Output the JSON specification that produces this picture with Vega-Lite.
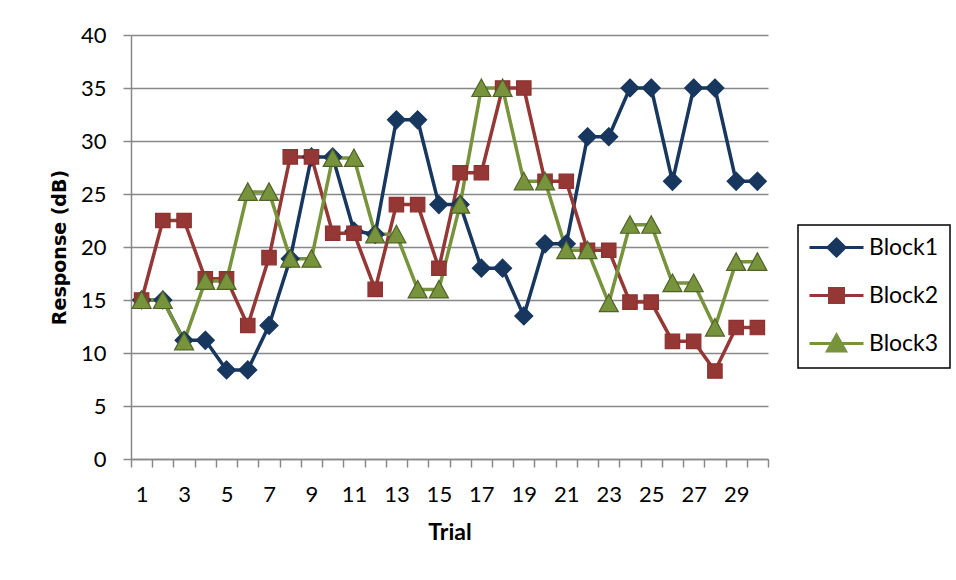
{
  "$schema": "https://vega.github.io/schema/vega-lite/v6.json",
  "autosize": "none",
  "width": 637,
  "height": 424,
  "padding": {"left": 131, "top": 35, "right": 188, "bottom": 121},
  "background": "#ffffff",
  "config": {
    "view": {"stroke": null},
    "font": "Lato"
  },
  "data": {
    "values": [
      {"Trial": 1, "Block1": 15, "Block2": 15, "Block3": 15},
      {"Trial": 2, "Block1": 15, "Block2": 22.5, "Block3": 15},
      {"Trial": 3, "Block1": 11.2, "Block2": 22.5, "Block3": 11.1},
      {"Trial": 4, "Block1": 11.2, "Block2": 17, "Block3": 16.8},
      {"Trial": 5, "Block1": 8.4, "Block2": 17, "Block3": 16.8},
      {"Trial": 6, "Block1": 8.4, "Block2": 12.6, "Block3": 25.2},
      {"Trial": 7, "Block1": 12.6, "Block2": 19, "Block3": 25.2},
      {"Trial": 8, "Block1": 18.9, "Block2": 28.5, "Block3": 18.9},
      {"Trial": 9, "Block1": 28.5, "Block2": 28.5, "Block3": 18.9},
      {"Trial": 10, "Block1": 28.5, "Block2": 21.3, "Block3": 28.4},
      {"Trial": 11, "Block1": 21.5, "Block2": 21.3, "Block3": 28.4},
      {"Trial": 12, "Block1": 21.2, "Block2": 16, "Block3": 21.2},
      {"Trial": 13, "Block1": 32, "Block2": 24, "Block3": 21.2},
      {"Trial": 14, "Block1": 32, "Block2": 24, "Block3": 16},
      {"Trial": 15, "Block1": 24, "Block2": 18, "Block3": 16},
      {"Trial": 16, "Block1": 24, "Block2": 27, "Block3": 24},
      {"Trial": 17, "Block1": 18, "Block2": 27, "Block3": 35},
      {"Trial": 18, "Block1": 18, "Block2": 35, "Block3": 35},
      {"Trial": 19, "Block1": 13.5, "Block2": 35, "Block3": 26.2},
      {"Trial": 20, "Block1": 20.3, "Block2": 26.2, "Block3": 26.2},
      {"Trial": 21, "Block1": 20.3, "Block2": 26.2, "Block3": 19.7},
      {"Trial": 22, "Block1": 30.4, "Block2": 19.7, "Block3": 19.7},
      {"Trial": 23, "Block1": 30.4, "Block2": 19.7, "Block3": 14.7},
      {"Trial": 24, "Block1": 35, "Block2": 14.8, "Block3": 22.1},
      {"Trial": 25, "Block1": 35, "Block2": 14.8, "Block3": 22.1},
      {"Trial": 26, "Block1": 26.2, "Block2": 11.1, "Block3": 16.6},
      {"Trial": 27, "Block1": 35, "Block2": 11.1, "Block3": 16.6},
      {"Trial": 28, "Block1": 35, "Block2": 8.3, "Block3": 12.4},
      {"Trial": 29, "Block1": 26.2, "Block2": 12.4, "Block3": 18.6},
      {"Trial": 30, "Block1": 26.2, "Block2": 12.4, "Block3": 18.6}
    ]
  },
  "transform": [
    {"fold": ["Block1", "Block2", "Block3"], "as": ["series", "value"]}
  ],
  "encoding": {
    "x": {
      "field": "Trial",
      "type": "ordinal",
      "scale": {"type": "band", "paddingInner": 0, "paddingOuter": 0},
      "axis": {
        "title": "Trial",
        "labelAngle": 0,
        "labelExpr": "datum.value % 2 === 1 ? datum.label : ''",
        "tickBand": "extent",
        "labelOverlap": false,
        "grid": false,
        "domainColor": "#888888",
        "domainWidth": 1.5,
        "tickColor": "#888888",
        "tickWidth": 1.5,
        "tickSize": 8,
        "labelFont": "Lato",
        "labelFontSize": 22,
        "labelColor": "#000000",
        "labelPadding": 17,
        "titleFont": "Lato",
        "titleFontSize": 23,
        "titleFontWeight": "bold",
        "titleColor": "#000000",
        "titlePadding": 16
      }
    },
    "y": {
      "field": "value",
      "type": "quantitative",
      "scale": {"domain": [0, 40], "nice": false},
      "axis": {
        "title": "Response (dB)",
        "values": [0, 5, 10, 15, 20, 25, 30, 35, 40],
        "grid": true,
        "gridColor": "#888888",
        "gridWidth": 1.3,
        "domainColor": "#888888",
        "domainWidth": 1.5,
        "tickColor": "#888888",
        "tickWidth": 1.5,
        "tickSize": 8,
        "labelFont": "Lato",
        "labelFontSize": 22,
        "labelColor": "#000000",
        "labelPadding": 17,
        "titleFont": "DejaVu Sans",
        "titleFontSize": 19,
        "titleFontWeight": "bold",
        "titleColor": "#000000",
        "titlePadding": 11
      }
    },
    "color": {
      "field": "series",
      "type": "nominal",
      "scale": {"domain": ["Block1", "Block2", "Block3"], "range": ["#17375E", "#953735", "#77933C"]},
      "legend": {
        "title": null,
        "orient": "none",
        "legendX": 667,
        "legendY": 190,
        "strokeColor": "#000000",
        "padding": 11,
        "rowPadding": 20,
        "symbolSize": 100,
        "symbolStrokeWidth": 3,
        "symbolOffset": 16,
        "labelOffset": 21,
        "labelFont": "Lato",
        "labelFontSize": 23,
        "labelColor": "#000000",
        "encode": {
          "legend": {
            "update": {"strokeWidth": {"value": 1.5}}
          },
          "symbols": {
            "update": {
              "shape": {"signal": "datum.value === 'Block1' ? 'M-5.4,0H5.4M0,-1.7L1.7,0L0,1.7L-1.7,0Z' : datum.value === 'Block2' ? 'M-5.4,0H5.4M-1.4,-1.4H1.4V1.4H-1.4Z' : 'M-5.4,0H5.4M0,-1.7L1.8,1.5L-1.8,1.5Z'"},
              "fill": {"signal": "datum.value === 'Block1' ? '#17375E' : datum.value === 'Block2' ? '#953735' : '#77933C'"},
              "stroke": {"signal": "datum.value === 'Block1' ? '#17375E' : datum.value === 'Block2' ? '#953735' : '#77933C'"},
              "strokeWidth": {"value": 3},
              "opacity": {"value": 1},
              "fillOpacity": {"value": 1},
              "strokeOpacity": {"value": 1}
            }
          }
        }
      }
    }
  },
  "layer": [
    {
      "mark": {"type": "line", "strokeWidth": 3.5, "strokeJoin": "round"}
    },
    {
      "mark": {"type": "point", "filled": true, "size": 100, "opacity": 1, "strokeWidth": 1.2},
      "encoding": {
        "shape": {
          "condition": [
            {"test": "datum.series === 'Block1'", "value": "M0,-1.8L1.8,0L0,1.8L-1.8,0Z"},
            {"test": "datum.series === 'Block2'", "value": "M-1.44,-1.44H1.44V1.44H-1.44Z"}
          ],
          "value": "M0,-1.8L1.9,1.7L-1.9,1.7Z"
        },
        "stroke": {
          "condition": [
            {"test": "datum.series === 'Block1'", "value": "#17375E"},
            {"test": "datum.series === 'Block2'", "value": "#8C3230"}
          ],
          "value": "#4F6228"
        }
      }
    }
  ]
}
